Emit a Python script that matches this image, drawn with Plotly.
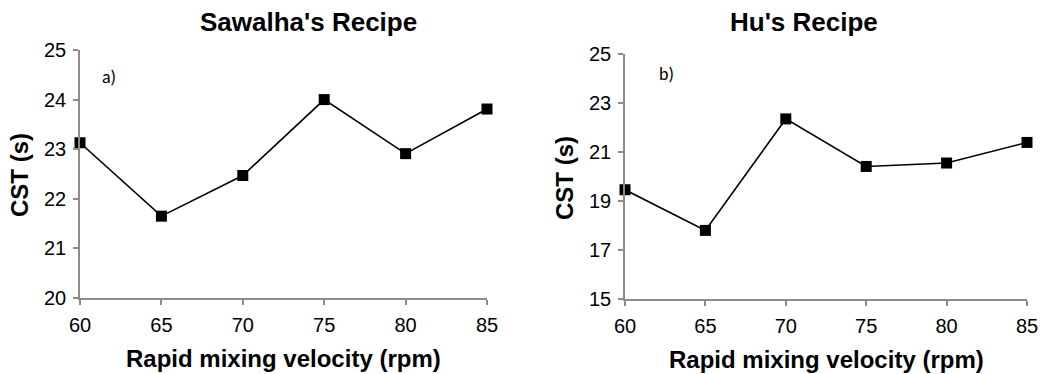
import plotly.graph_objects as go

rpm = [60, 65, 70, 75, 80, 85]
sawalha_cst = [23.13, 21.65, 22.47, 24.0, 22.91, 23.81]
hu_cst = [19.46, 17.8, 22.35, 20.41, 20.55, 21.39]

left_ticks = [20, 21, 22, 23, 24, 25]
right_ticks = [15, 17, 19, 21, 23, 25]
x_ticks = [60, 65, 70, 75, 80, 85]

W, H = 1043, 374
FONT = "Liberation Sans, Arial, sans-serif"

def px_x(p):
    return p / W

def px_y(p):
    return 1 - p / H

fig = go.Figure()
fig.add_trace(go.Scatter(x=rpm, y=sawalha_cst, mode="lines+markers",
                         line=dict(color="black", width=1.6),
                         marker=dict(symbol="square", size=11, color="black"),
                         cliponaxis=False, xaxis="x", yaxis="y", showlegend=False))
fig.add_trace(go.Scatter(x=rpm, y=hu_cst, mode="lines+markers",
                         line=dict(color="black", width=1.6),
                         marker=dict(symbol="square", size=11, color="black"),
                         cliponaxis=False, xaxis="x2", yaxis="y2", showlegend=False))

axis_common = dict(showgrid=False, zeroline=False, showline=True, linecolor="#8c8c8c",
                   linewidth=1.5, ticks="outside", ticklen=5, tickcolor="#8c8c8c",
                   tickwidth=1.5, automargin=False, ticklabelstandoff=3,
                   tickfont=dict(family=FONT, size=20, color="black"))

fig.update_layout(
    width=W, height=H, margin=dict(l=0, r=0, t=0, b=0, pad=0),
    paper_bgcolor="white", plot_bgcolor="white",
    xaxis=dict(domain=[px_x(80), px_x(487)], range=[60, 85], tickvals=x_ticks,
               anchor="y", **axis_common),
    yaxis=dict(domain=[px_y(298), px_y(50)], range=[20, 25], tickvals=left_ticks,
               anchor="x", **axis_common),
    xaxis2=dict(domain=[px_x(625), px_x(1027)], range=[60, 85], tickvals=x_ticks,
                anchor="y2", **axis_common),
    yaxis2=dict(domain=[px_y(299), px_y(54)], range=[15, 25], tickvals=right_ticks,
                anchor="x2", **axis_common),
)

title_font = dict(family=FONT, size=26, color="black")
bold = dict(family=FONT, size=24, color="black")
ann = []
ann.append(dict(text="<b>Sawalha's Recipe</b>", x=px_x(308), y=px_y(22), xref="paper", yref="paper",
                showarrow=False, font=title_font, xanchor="center", yanchor="middle"))
ann.append(dict(text="<b>Hu's Recipe</b>", x=px_x(804), y=px_y(22), xref="paper", yref="paper",
                showarrow=False, font=title_font, xanchor="center", yanchor="middle"))
ann.append(dict(text="<b>Rapid mixing velocity (rpm)</b>", x=px_x(283), y=px_y(358), xref="paper", yref="paper",
                showarrow=False, font=bold, xanchor="center", yanchor="middle"))
ann.append(dict(text="<b>Rapid mixing velocity (rpm)</b>", x=px_x(826), y=px_y(359), xref="paper", yref="paper",
                showarrow=False, font=bold, xanchor="center", yanchor="middle"))
ann.append(dict(text="<b>CST (s)</b>", x=px_x(19), y=px_y(175), xref="paper", yref="paper",
                showarrow=False, font=bold, xanchor="center", yanchor="middle", textangle=-90))
ann.append(dict(text="<b>CST (s)</b>", x=px_x(564), y=px_y(178), xref="paper", yref="paper",
                showarrow=False, font=bold, xanchor="center", yanchor="middle", textangle=-90))
ann.append(dict(text="a)", x=61.8, y=24.45, xref="x", yref="y", showarrow=False,
                font=dict(family="Carlito, Calibri, Liberation Sans, sans-serif", size=18, color="black")))
ann.append(dict(text="b)", x=62.55, y=24.2, xref="x2", yref="y2", showarrow=False,
                font=dict(family="Carlito, Calibri, Liberation Sans, sans-serif", size=18, color="black")))
fig.update_layout(annotations=ann)

fig.write_html("out.html")
